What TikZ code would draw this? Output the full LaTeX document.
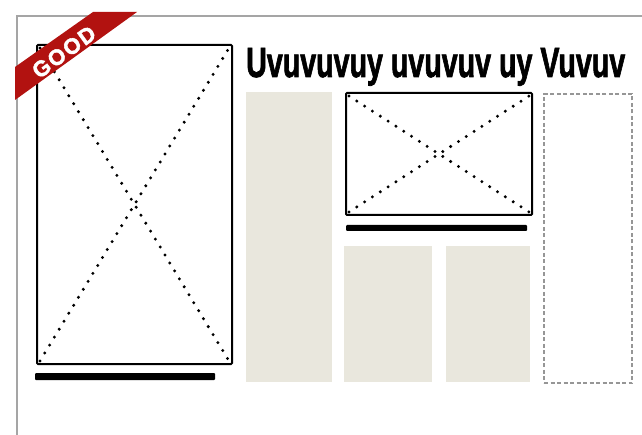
\documentclass[tikz,border=0pt]{standalone}
\usepackage{fontspec}
\setmainfont{Liberation Sans}[BoldFeatures={FakeBold=2}]
\usepackage{graphicx}
\definecolor{framegray}{RGB}{165, 165, 165}
\definecolor{textgray}{RGB}{233, 231, 221}
\definecolor{dashgray}{RGB}{150, 150, 150}
\definecolor{ribbonred}{RGB}{178, 18, 16}

\begin{document}
\begin{tikzpicture}[x=1pt, y=-1pt,
  imgbox/.style={draw, line width=2pt, inner sep=0pt, rounded corners=1pt},
  crossdots/.style={line width=3.3pt, line cap=round, dash pattern=on 0pt off 9.3pt},
  capbar/.style={fill=black, inner sep=0pt, rounded corners=1pt},
  textcol/.style={fill=textgray, inner sep=0pt},
  spacecol/.style={draw=dashgray, line width=1.2pt, dash pattern=on 4pt off 2.5pt, inner sep=0pt}
]
  \useasboundingbox[fill=white] (0,0) rectangle (642,435);

  % page edge
  \draw[framegray, line width=1.5pt] (642,16) -- (17,16) -- (17,435);

  % left column: big picture and caption
  \node[imgbox, minimum width=195pt, minimum height=319pt] (bigimg) at (134.5,204.5) {};
  \draw[crossdots] ([shift={(4pt,4pt)}]bigimg.south west) -- ([shift={(-4pt,-4pt)}]bigimg.north east);
  \draw[crossdots] ([shift={(4pt,-4pt)}]bigimg.north west) -- ([shift={(-4pt,4pt)}]bigimg.south east);
  \node[capbar, minimum width=180pt, minimum height=7pt] (bigcap) at (125,376.5) {};

  % headline
  \node[anchor=base west, inner sep=0pt] (headline) at (246,77)
    {\resizebox{379pt}{29pt}{\bfseries Uvuvuvuy uvuvuv uy Vuvuv}};

  % text columns
  \node[textcol, minimum width=86pt, minimum height=290pt] (colone) at (289,237) {};
  \node[textcol, minimum width=88pt, minimum height=136pt] (coltwo) at (388,314) {};
  \node[textcol, minimum width=84pt, minimum height=136pt] (colthree) at (488,314) {};

  % small picture and caption
  \node[imgbox, minimum width=186pt, minimum height=122pt] (smallimg) at (439,154) {};
  \draw[crossdots] ([shift={(4pt,4pt)}]smallimg.south west) -- ([shift={(-4pt,-4pt)}]smallimg.north east);
  \draw[crossdots] ([shift={(4pt,-4pt)}]smallimg.north west) -- ([shift={(-4pt,4pt)}]smallimg.south east);
  \node[capbar, minimum width=181pt, minimum height=6pt] (smallcap) at (436.5,228) {};

  % empty column
  \node[spacecol, minimum width=88pt, minimum height=289pt] (emptycol) at (588,238.5) {};

  % ribbon
  \fill[ribbonred] (15,67) -- (93,12) -- (137,12) -- (15,100) -- cycle;
  \node[rotate=36, text=white, font=\bfseries\fontsize{22}{22}\selectfont\addfontfeature{LetterSpace=8}, inner sep=0pt] (good) at (64,52) {GOOD};
\end{tikzpicture}
\end{document}
